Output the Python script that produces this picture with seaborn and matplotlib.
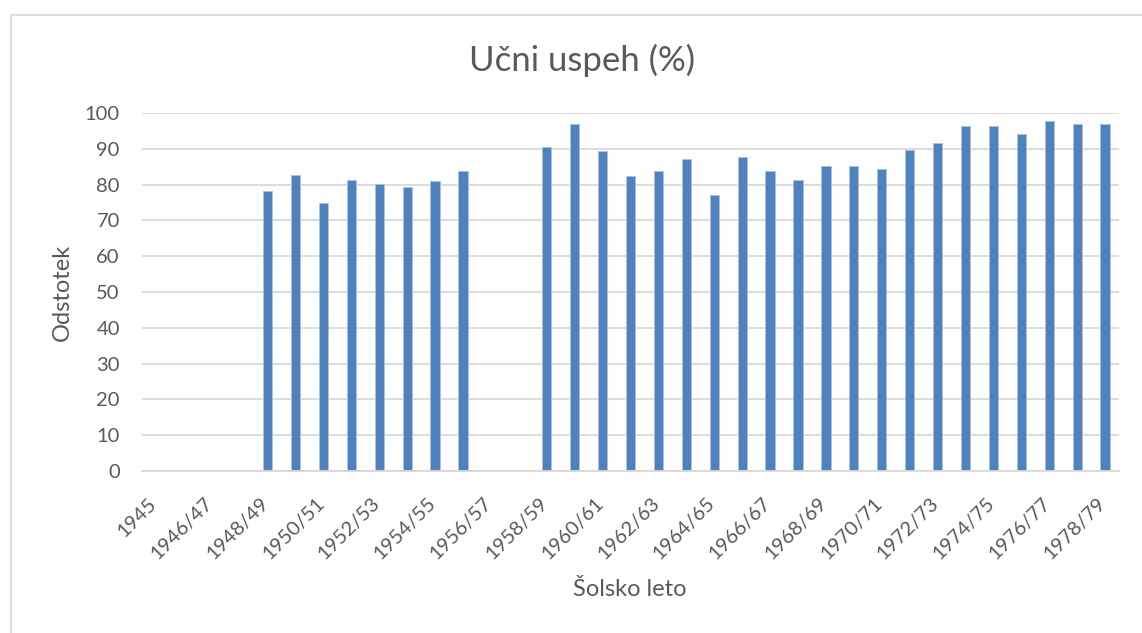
import numpy as np
import pandas as pd
import seaborn as sns
import matplotlib.pyplot as plt
from matplotlib.patches import Rectangle
from matplotlib.transforms import ScaledTranslation

years = ['1945', '1945/46', '1946/47', '1947/48', '1948/49', '1949/50', '1950/51',
         '1951/52', '1952/53', '1953/54', '1954/55', '1955/56', '1956/57', '1957/58',
         '1958/59', '1959/60', '1960/61', '1961/62', '1962/63', '1963/64', '1964/65',
         '1965/66', '1966/67', '1967/68', '1968/69', '1969/70', '1970/71', '1971/72',
         '1972/73', '1973/74', '1974/75', '1975/76', '1976/77', '1977/78', '1978/79']
uspeh = [np.nan, np.nan, np.nan, np.nan, 78.3, 82.7, 75.0,
         81.4, 80.1, 79.2, 80.9, 83.9, np.nan, np.nan,
         90.6, 96.9, 89.5, 82.5, 83.9, 87.2, 77.2,
         87.8, 83.9, 81.4, 85.1, 85.2, 84.4, 89.8,
         91.5, 96.4, 96.3, 94.1, 97.9, 97.0, 96.9]
yticks = list(range(0, 101, 10))

sns.set_theme(style='white')
plt.rcParams['font.family'] = ['Lato', 'DejaVu Sans']
grey = '#595959'

df = pd.DataFrame({'leto': years, 'uspeh': uspeh})

fig = plt.figure(figsize=(11.42, 6.33), dpi=100)
ax = fig.add_axes([142 / 1142, 1 - 471 / 633, (1119 - 142) / 1142, (471 - 113) / 633])

sns.barplot(data=df.dropna(), x='leto', y='uspeh', order=years, color='#4f81bd',
            saturation=1, width=0.33, edgecolor='#a9c2e2', linewidth=0.6, ax=ax)

ax.set_ylim(0, 100)
ax.set_xlim(-0.5, len(years) - 0.5)
ax.set_yticks(yticks)
ax.set_yticklabels([str(t) for t in yticks], fontsize=14.5, color=grey)
ax.yaxis.grid(True, color='#d9d9d9', linewidth=1.3)
ax.set_axisbelow(True)

pos = list(range(0, len(years), 2))
ax.set_xticks(pos)
ax.set_xticklabels([years[i] for i in pos], rotation=45, ha='right',
                   rotation_mode='anchor', fontsize=14.5, color=grey)
ax.tick_params(axis='both', length=0)
ax.tick_params(axis='x', pad=17)
ax.tick_params(axis='y', pad=16)
# Excel puts the rotated labels a little left of the category centre
shift = ScaledTranslation(-8 / 100, 0, fig.dpi_scale_trans)
for lbl in ax.get_xticklabels():
    lbl.set_transform(lbl.get_transform() + shift)

for s in ['top', 'right', 'left']:
    ax.spines[s].set_visible(False)
ax.spines['bottom'].set_color('#d9d9d9')
ax.spines['bottom'].set_linewidth(1.3)

ax.set_xlabel('')
ax.set_ylabel('')
fig.text(630 / 1142, 1 - 590 / 633, 'Šolsko leto', ha='center', va='center',
         fontsize=17, color=grey)
fig.text(62 / 1142, 1 - 292 / 633, 'Odstotek', ha='center', va='center',
         rotation=90, fontsize=17, color=grey)
fig.text(582 / 1142, 1 - 60 / 633, 'Učni uspeh (%)', ha='center', va='center',
         fontsize=25, color=grey)

fig.patches.append(Rectangle((11 / 1142, -0.1), 1.2, 1 - 15 / 633 + 0.1,
                             transform=fig.transFigure, fill=False,
                             edgecolor='#d9d9d9', linewidth=1.3))

fig.savefig('out.png', dpi=100)
